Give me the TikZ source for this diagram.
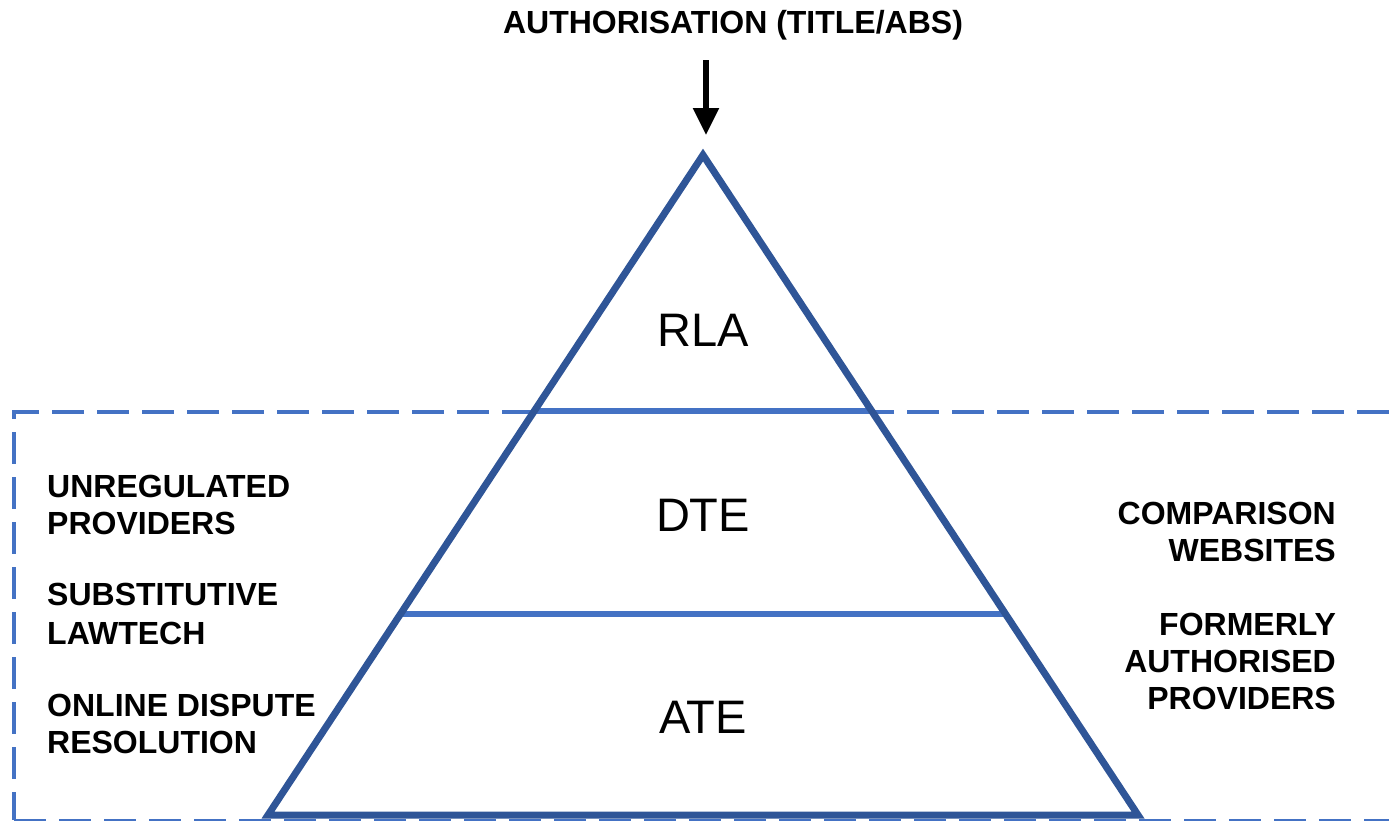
\documentclass[tikz,border=0pt]{standalone}
\usepackage{fontspec}
\setmainfont{Liberation Sans}
\usetikzlibrary{arrows.meta,calc}
\definecolor{pyrdark}{HTML}{2F5597}
\definecolor{pyrlight}{HTML}{4472C4}
\begin{document}
\begin{tikzpicture}[x=1pt,y=-1pt,
  edge/.style={draw=pyrdark,line width=7pt,line join=miter},
  tier/.style={draw=pyrlight,line width=6pt},
  frame/.style={draw=pyrlight,line width=3.5pt,dash pattern=on 32pt off 13pt},
  sidelbl/.style={inner sep=0pt,font=\bfseries\fontsize{32}{37}\selectfont},
  tierlbl/.style={inner sep=0pt,font=\fontsize{47}{52}\selectfont},
  arr/.style={line width=5.5pt,-{Triangle[length=27pt,width=25pt]}}]
\useasboundingbox (0,0) rectangle (1389,822);
% frame
\coordinate (ftl) at (14,412);
\coordinate (ftr) at (1389,412);
\coordinate (fbl) at (14,820);
\coordinate (fbr) at (1389,820);
\draw[frame] (ftr) -- (ftl) -- (fbl);
\draw[frame,line width=2.5pt] (fbl) -- (fbr);
% pyramid
\coordinate (apex) at (703,155);
\coordinate (bl) at (268,815);
\coordinate (br) at (1138,815);
\coordinate (l1) at ($(apex)!0.3879!(bl)$);
\coordinate (r1) at ($(apex)!0.3879!(br)$);
\coordinate (l2) at ($(apex)!0.6955!(bl)$);
\coordinate (r2) at ($(apex)!0.6955!(br)$);
\draw[tier] (l1) -- (r1);
\draw[tier] (l2) -- (r2);
\draw[edge] (apex) -- (bl) -- (br) -- cycle;
% tier labels
\node[tierlbl] (rla) at (703,330) {RLA};
\node[tierlbl] (dte) at (703,515) {DTE};
\node[tierlbl] (ate) at (703,717) {ATE};
% title and arrow
\node[sidelbl,anchor=north] (title) at (733,10) {AUTHORISATION (TITLE/ABS)};
\coordinate (arrtop) at (706,60);
\coordinate (arrtip) at (706,135);
\draw[arr] (arrtop) -- (arrtip);
% left labels
\node[sidelbl,anchor=north west,align=left] (unreg) at (47,475) {UNREGULATED\\PROVIDERS};
\node[sidelbl,anchor=north west,align=left,font=\bfseries\fontsize{32}{39}\selectfont] (subst) at (47,583) {SUBSTITUTIVE\\LAWTECH};
\node[sidelbl,anchor=north west,align=left] (odr) at (47,694) {ONLINE DISPUTE\\RESOLUTION};
% right labels
\node[sidelbl,anchor=north east,align=right] (comp) at (1336,502) {COMPARISON\\WEBSITES};
\node[sidelbl,anchor=north east,align=right] (former) at (1336,613) {FORMERLY\\AUTHORISED\\PROVIDERS};
\end{tikzpicture}
\end{document}
